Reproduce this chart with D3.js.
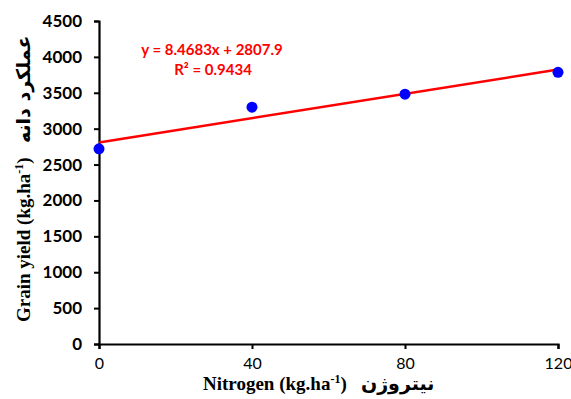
<!DOCTYPE html>
<html>
<head>
<meta charset="utf-8">
<script src="https://cdn.jsdelivr.net/npm/d3@7"></script>
<style>
  body { margin: 0; background: #fff; }
  svg { display: block; }
  text { white-space: pre; }
</style>
</head>
<body>
<svg id="chart" width="571" height="399"></svg>
<script>
// nitrogen rates and grain yield
let nitrogen = [0, 40, 80, 120];
let grainYield = [2720, 3300, 3480, 3785];
let xTicks = [0, 40, 80, 120];
let yTicks = [0, 500, 1000, 1500, 2000, 2500, 3000, 3500, 4000, 4500];
// trendline as printed on the chart
let slope = 8.4683;
let intercept = 2807.9;
let r2 = 0.9434;

let svg = d3.select("#chart");
let margin = {top: 21, right: 13, bottom: 55, left: 99};
let width = 571 - margin.left - margin.right;
let height = 399 - margin.top - margin.bottom;

let g = svg.append("g")
           .attr("transform", `translate(${margin.left},${margin.top})`);

let x = d3.scaleLinear().domain([0, 120]).range([0, width]);
let y = d3.scaleLinear().domain([0, 4500]).range([height, 0]);

// y axis
let yAxis = g.append("g")
             .call(d3.axisLeft(y).tickValues(yTicks).tickFormat(d3.format("d"))
                     .tickSize(5).tickPadding(12));
yAxis.select(".domain").attr("stroke", "#000").attr("stroke-width", 2.2);
yAxis.selectAll(".tick line").attr("stroke", "#000").attr("stroke-width", 2);
yAxis.selectAll("text")
     .attr("font-family", "Lato, 'Open Sans', sans-serif")
     .attr("font-weight", "bold")
     .attr("font-size", 17)
     .attr("fill", "#000");

// x axis
let xAxis = g.append("g")
             .attr("transform", `translate(0,${height})`)
             .call(d3.axisBottom(x).tickValues(xTicks).tickFormat(d3.format("d"))
                     .tickSize(5).tickPadding(9));
xAxis.select(".domain").attr("stroke", "#000").attr("stroke-width", 2.2);
xAxis.selectAll(".tick line").attr("stroke", "#000").attr("stroke-width", 2);
xAxis.selectAll("text")
     .attr("font-family", "Lato, 'Open Sans', sans-serif")
     .attr("font-size", 16)
     .attr("fill", "#000");

// trendline
g.append("line")
 .attr("x1", x(0))
 .attr("y1", y(intercept + slope * 0))
 .attr("x2", x(120))
 .attr("y2", y(intercept + slope * 120))
 .attr("stroke", "#ff0000")
 .attr("stroke-width", 2.5);

// points
g.selectAll("circle")
 .data(nitrogen)
 .enter()
 .append("circle")
 .attr("cx", d => x(d))
 .attr("cy", (d, i) => y(grainYield[i]))
 .attr("r", 5.5)
 .attr("fill", "#0000ff");

// equation
let eq = svg.append("text")
            .attr("font-family", "Lato, 'Open Sans', sans-serif")
            .attr("font-weight", "bold")
            .attr("font-size", 15)
            .attr("fill", "#ff0000")
            .attr("text-anchor", "middle");
eq.append("tspan").attr("x", 212).attr("y", 55)
  .text(`y = ${slope}x + ${intercept}`);
eq.append("tspan").attr("x", 213).attr("y", 75)
  .text(`R² = ${r2}`);

// x label
let xl = svg.append("text")
            .attr("x", 203)
            .attr("y", 390)
            .attr("font-family", "'Liberation Serif', 'DejaVu Sans', serif")
            .attr("font-weight", "bold")
            .attr("font-size", 19)
            .attr("fill", "#000");
xl.append("tspan").text("Nitrogen (kg.ha");
xl.append("tspan").attr("font-size", 12).attr("dy", -7).text("-1");
xl.append("tspan").attr("dy", 7).text(")   ");
xl.append("tspan").attr("font-family", "'DejaVu Sans', sans-serif")
  .attr("font-size", 19).text("نیتروژن");

// y label
let yl = svg.append("text")
            .attr("transform", "translate(30,322) rotate(-90)")
            .attr("font-family", "'Liberation Serif', 'DejaVu Sans', serif")
            .attr("font-weight", "bold")
            .attr("font-size", 19)
            .attr("fill", "#000");
yl.append("tspan").text("Grain yield (kg.ha");
yl.append("tspan").attr("font-size", 12).attr("dy", -7).text("-1");
yl.append("tspan").attr("dy", 7).text(")   ");
yl.append("tspan").attr("font-family", "'DejaVu Sans', sans-serif")
  .attr("font-size", 19).text("عملکرد دانه");
</script>
</body>
</html>
